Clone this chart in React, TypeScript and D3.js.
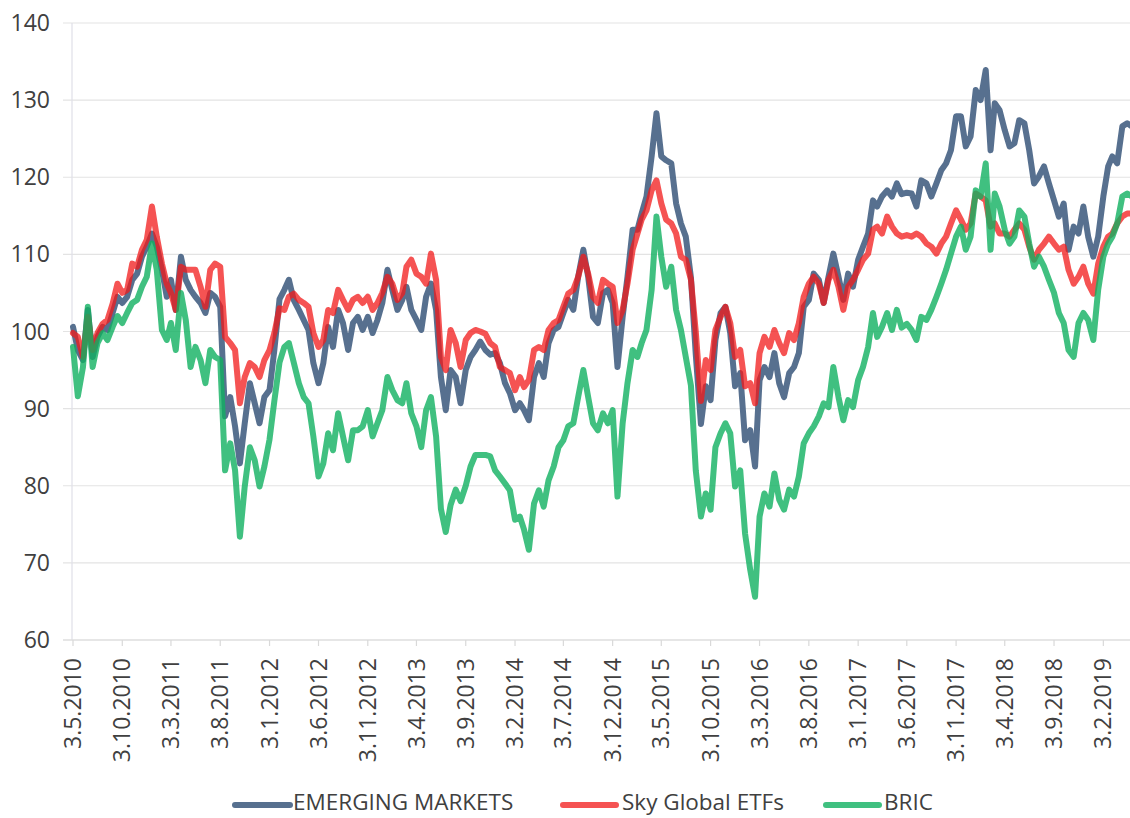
import React from 'react';
import * as d3 from 'd3';

const W = 1130;
const H = 818;

const tickLabels = [
  '3.5.2010', '3.10.2010', '3.3.2011', '3.8.2011', '3.1.2012', '3.6.2012', '3.11.2012',
  '3.4.2013', '3.9.2013', '3.2.2014', '3.7.2014', '3.12.2014', '3.5.2015', '3.10.2015',
  '3.3.2016', '3.8.2016', '3.1.2017', '3.6.2017', '3.11.2017', '3.4.2018', '3.9.2018', '3.2.2019',
];
const yTicks = [60, 70, 80, 90, 100, 110, 120, 130, 140];
const seriesNames = ['EMERGING MARKETS', 'Sky Global ETFs', 'BRIC'];

// semi-monthly readings (3rd and 18th of each month), 3.5.2010 .. 3.5.2019
const emerging = [
  100.6, 97.6, 96.3, 102.8, 96.7, 99.3, 100.6, 100.2, 102.4, 104.5, 103.7, 104.5, 106.7, 107.5, 109.7, 111.0,
  112.7, 111.0, 108.0, 104.5, 106.7, 102.8, 109.7, 106.7, 105.4, 104.5, 103.7, 102.4, 105.0, 104.5, 103.2, 89.0,
  91.5, 87.7, 82.9, 88.1, 93.3, 90.7, 88.1, 91.5, 92.4, 97.6, 104.2, 105.4, 106.7, 104.1, 102.8, 101.5,
  100.2, 95.9, 93.3, 95.9, 100.6, 98.0, 102.8, 101.1, 97.6, 101.1, 101.9, 100.2, 101.9, 99.8, 101.5, 103.7,
  108.0, 105.4, 102.8, 104.1, 105.8, 102.8, 101.5, 100.2, 104.5, 106.2, 102.8, 94.1, 89.8, 95.0, 94.1, 90.7,
  95.0, 96.7, 97.6, 98.7, 97.6, 97.0, 97.2, 95.9, 93.3, 92.0, 89.8, 90.7, 89.8, 88.5, 94.1, 95.9,
  94.1, 98.5, 100.2, 100.6, 102.4, 104.1, 102.8, 107.1, 110.6, 107.1, 101.9, 101.1, 105.0, 105.4, 103.7, 95.4,
  101.9, 107.1, 113.2, 113.2, 115.3, 117.5, 122.7, 128.3, 122.7, 122.2, 121.8, 116.6, 114.0, 112.3, 107.0, 97.0,
  88.0, 92.9, 91.1, 98.9, 102.4, 103.2, 99.8, 92.9, 94.6, 85.9, 87.2, 82.5, 93.7, 95.4, 94.1, 97.2,
  93.3, 91.5, 94.6, 95.4, 97.2, 103.2, 104.1, 107.5, 106.7, 103.7, 107.1, 110.1, 107.1, 104.1, 107.5, 105.8,
  109.3, 111.0, 112.7, 117.0, 116.2, 117.5, 118.3, 117.5, 119.2, 117.8, 118.0, 117.9, 116.2, 119.6, 119.2, 117.5,
  119.2, 120.9, 121.8, 123.5, 127.9, 127.9, 124.0, 125.3, 131.3, 130.0, 133.9, 123.5, 129.6, 128.7, 126.1, 124.0,
  124.4, 127.4, 127.0, 123.5, 119.2, 120.1, 121.4, 119.2, 117.0, 114.9, 116.6, 110.6, 113.6, 112.7, 116.2, 112.3,
  109.7, 112.3, 117.5, 121.4, 122.7, 121.8, 126.6, 127.0, 126.6,
];
const sky = [
  99.8, 99.3, 96.7, 101.9, 97.6, 99.8, 101.0, 101.5, 103.6, 106.2, 105.0, 105.4, 108.8, 108.4, 110.6, 111.9,
  116.2, 112.3, 108.8, 106.2, 105.0, 102.8, 108.4, 108.0, 108.0, 108.0, 105.8, 103.2, 108.0, 108.8, 108.4, 99.3,
  98.5, 97.6, 90.7, 94.1, 95.9, 95.4, 94.1, 96.3, 97.6, 99.8, 103.0, 102.8, 104.5, 104.9, 104.1, 103.7,
  103.2, 99.8, 98.0, 98.9, 102.8, 102.4, 105.4, 104.1, 102.8, 104.1, 104.5, 103.7, 104.5, 102.8, 103.7, 105.0,
  107.1, 106.2, 104.1, 105.0, 108.4, 109.3, 107.5, 107.1, 106.2, 110.1, 106.7, 96.7, 95.0, 100.2, 98.5, 95.4,
  98.9, 99.8, 100.2, 100.0, 99.7, 98.5, 98.0, 95.4, 95.0, 94.6, 92.4, 94.1, 92.8, 93.7, 97.6, 98.0,
  97.6, 100.2, 101.1, 101.5, 103.2, 104.9, 105.4, 107.1, 109.7, 107.5, 104.5, 103.7, 106.7, 106.2, 105.8, 101.1,
  102.8, 106.2, 110.6, 112.7, 114.5, 115.7, 118.3, 119.6, 116.6, 114.5, 114.0, 112.7, 109.7, 109.3, 106.7, 100.0,
  91.0, 96.3, 95.0, 100.2, 101.9, 103.2, 101.1, 96.7, 97.6, 92.9, 93.3, 90.7, 97.2, 99.3, 98.0, 100.2,
  98.5, 97.2, 99.8, 98.9, 101.1, 104.5, 106.2, 107.1, 106.2, 103.7, 106.7, 108.0, 105.8, 102.8, 105.8, 106.7,
  108.0, 109.3, 110.1, 113.2, 113.6, 112.7, 114.9, 113.6, 112.7, 112.3, 112.5, 112.3, 112.7, 112.3, 111.4, 111.0,
  110.1, 111.4, 112.3, 114.0, 115.7, 114.5, 113.2, 114.0, 117.9, 117.5, 117.0, 113.6, 114.0, 112.7, 112.7, 112.3,
  113.2, 114.0, 113.2, 111.0, 109.3, 110.6, 111.4, 112.3, 111.4, 110.6, 111.0, 108.0, 106.2, 107.1, 108.4, 106.2,
  104.9, 108.8, 111.0, 112.3, 112.7, 114.0, 114.9, 115.3, 115.3,
];
const bric = [
  98.0, 91.6, 95.4, 103.2, 95.4, 98.5, 99.8, 98.9, 100.6, 102.0, 101.1, 102.4, 103.7, 104.1, 105.8, 107.1,
  111.4, 108.0, 100.2, 98.9, 101.1, 97.6, 105.0, 101.5, 95.4, 98.0, 96.3, 93.3, 97.6, 96.7, 96.3, 82.0,
  85.5, 82.0, 73.4, 79.9, 85.0, 83.3, 79.9, 82.5, 86.0, 91.0, 96.0, 98.0, 98.5, 96.0, 93.3, 91.5,
  90.7, 86.4, 81.2, 82.9, 86.8, 84.6, 89.4, 86.4, 83.3, 87.2, 87.2, 87.7, 89.8, 86.4, 88.1, 89.8,
  94.1, 92.4, 91.1, 90.7, 93.3, 89.4, 87.7, 85.0, 89.8, 91.5, 86.4, 77.0, 74.0, 77.5, 79.5, 78.0,
  80.0, 82.5, 84.0, 84.0, 84.0, 83.8, 82.0, 81.2, 80.3, 79.4, 75.6, 76.0, 74.3, 71.7, 77.7, 79.4,
  77.3, 80.7, 82.5, 85.0, 85.9, 87.7, 88.1, 91.5, 95.0, 91.5, 88.1, 87.2, 89.4, 88.1, 89.8, 78.6,
  88.1, 93.3, 97.6, 96.7, 98.5, 100.2, 105.4, 114.9, 109.7, 105.8, 108.4, 102.8, 100.2, 96.7, 93.0, 82.0,
  76.0, 79.0, 76.9, 85.0, 86.8, 88.1, 86.8, 79.9, 82.0, 73.8, 69.1, 65.6, 76.0, 79.0, 77.3, 81.6,
  78.2, 76.9, 79.5, 78.6, 81.2, 85.5, 86.8, 87.7, 89.0, 90.7, 90.2, 95.4, 91.5, 88.5, 91.1, 90.2,
  93.7, 95.4, 98.0, 102.4, 99.3, 100.6, 102.4, 100.2, 102.8, 100.5, 101.0, 100.2, 98.9, 101.9, 101.5, 102.8,
  104.5, 106.2, 108.0, 110.1, 112.3, 113.6, 110.6, 112.3, 118.3, 117.5, 121.8, 110.6, 117.9, 116.2, 113.2, 111.4,
  112.3, 115.7, 114.9, 111.4, 108.4, 109.7, 108.4, 106.7, 105.0, 102.4, 101.1, 97.6, 96.7, 101.1, 102.4, 101.5,
  98.9, 105.4, 109.7, 111.4, 112.3, 114.0, 117.5, 117.9, 117.5,
];

const parseDMY = (s: string) => {
  const [d, m, y] = s.split('.').map(Number);
  return new Date(y, m - 1, d);
};
const dates = emerging.map((_, i) => new Date(2010, 4 + Math.floor(i / 2), i % 2 === 0 ? 3 : 18));

const FONT = "'Open Sans', sans-serif";
const TEXT = '#404040';

export default function App() {
  const x = d3.scaleTime().domain([new Date(2010, 4, 3), new Date(2019, 4, 3)]).range([73, 1132]);
  const y = d3.scaleLinear().domain([60, 140]).range([640, 23]);

  const line = d3
    .line<number>()
    .x((_, i) => x(dates[i]))
    .y((v) => y(v))
    .curve(d3.curveLinear);

  const series = [
    { name: seriesNames[0], data: emerging, color: '#4e6889', opacity: 0.95 },
    { name: seriesNames[1], data: sky, color: '#f21a1a', opacity: 0.75 },
    { name: seriesNames[2], data: bric, color: '#10b060', opacity: 0.8 },
  ];

  const legend = [
    { x1: 235, x2: 290, tx: 293 },
    { x1: 563, x2: 616, tx: 622 },
    { x1: 826, x2: 879, tx: 884 },
  ];

  return (
    <svg
      width={W}
      height={H}
      style={{ position: 'absolute', left: 0, top: 0, background: '#fff' }}
      fontFamily={FONT}
    >
      <rect x={0} y={0} width={W} height={H} fill="#fff" />
      {yTicks.map((t) => (
        <g key={t}>
          <line x1={63} x2={W} y1={y(t)} y2={y(t)} stroke="#e3e3e3" strokeWidth={1.2} />
          <text x={50} y={y(t)} dy="0.35em" textAnchor="end" fontSize={23} fill={TEXT}>
            {t}
          </text>
        </g>
      ))}
      <line x1={72} x2={72} y1={y(140)} y2={y(60)} stroke="#e0e0e8" strokeWidth={1.2} />
      <line x1={63} x2={W} y1={y(60)} y2={y(60)} stroke="#dcdcdc" strokeWidth={1.2} />
      {tickLabels.map((lab) => {
        const tx = x(parseDMY(lab));
        return (
          <g key={lab}>
            <line x1={tx} x2={tx} y1={640} y2={646} stroke="#d9d9d9" strokeWidth={1.2} />
            <text
              transform={`translate(${tx},658) rotate(-90)`}
              dy="0.35em"
              textAnchor="end"
              fontSize={23}
              fill={TEXT}
            >
              {lab}
            </text>
          </g>
        );
      })}
      {series.map((s) => (
        <path
          key={s.name}
          d={line(s.data) || ''}
          fill="none"
          stroke={s.color}
          strokeOpacity={s.opacity}
          strokeWidth={6}
          strokeLinejoin="round"
          strokeLinecap="round"
        />
      ))}
      {series.map((s, i) => (
        <g key={'lg' + s.name}>
          <line
            x1={legend[i].x1}
            x2={legend[i].x2}
            y1={805}
            y2={805}
            stroke={s.color}
            strokeOpacity={s.opacity}
            strokeWidth={6}
            strokeLinecap="round"
          />
          <text x={legend[i].tx} y={810} fontSize={22.5} fill={TEXT}>
            {s.name}
          </text>
        </g>
      ))}
    </svg>
  );
}
